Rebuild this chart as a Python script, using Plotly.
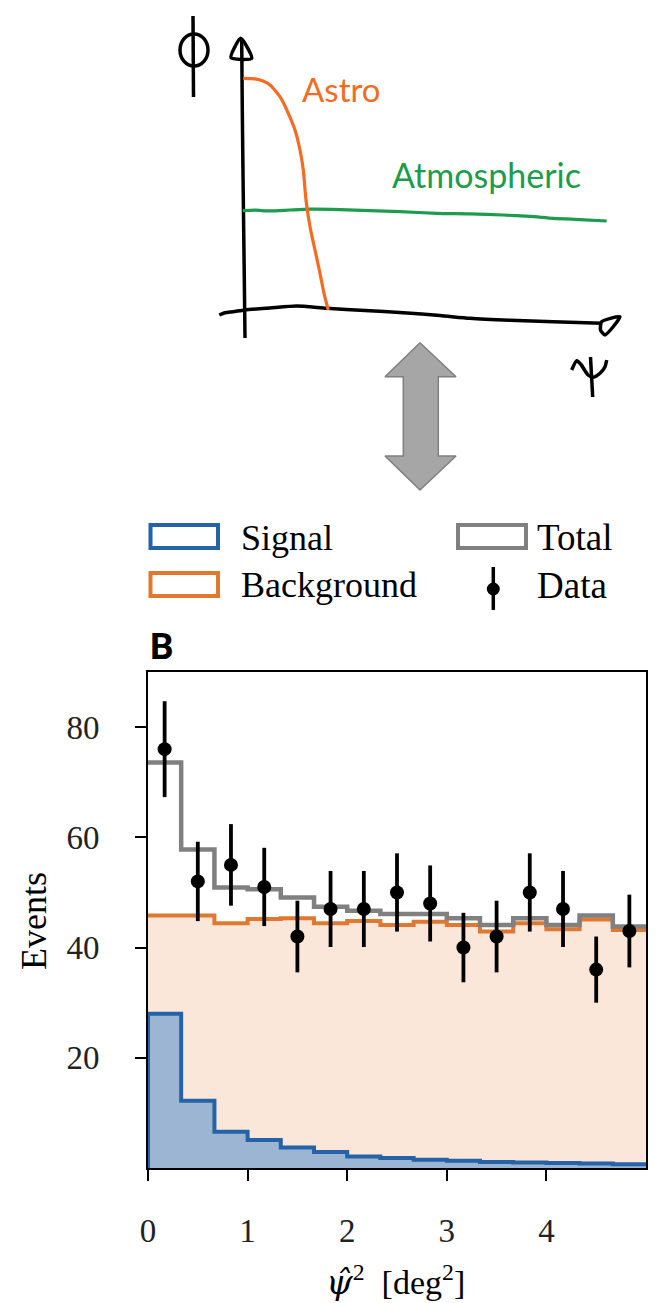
import plotly.graph_objects as go

W, H = 664, 1303

# ---------------- Histogram data (panel B) ----------------
edges = [0.0, 0.333, 0.667, 1.0, 1.333, 1.667, 2.0, 2.333, 2.667, 3.0,
         3.333, 3.667, 4.0, 4.333, 4.667, 5.0]
centers = [0.167, 0.5, 0.833, 1.167, 1.5, 1.833, 2.167, 2.5, 2.833, 3.167,
           3.5, 3.833, 4.167, 4.5, 4.833]
signal = [28.0, 12.2, 6.6, 5.1, 3.7, 2.9, 2.1, 1.8, 1.5, 1.3, 1.1, 1.0, 0.9, 0.8, 0.7]
background = [45.8, 45.8, 44.4, 45.2, 45.3, 44.4, 44.8, 44.1, 44.7, 44.1,
              42.9, 44.4, 43.3, 45.1, 43.2]
total = [73.6, 57.8, 50.9, 50.6, 49.1, 47.4, 46.7, 46.1, 46.1, 45.3,
         44.1, 45.3, 44.1, 45.8, 43.8]
data_counts = [76, 52, 55, 51, 42, 47, 47, 50, 48, 40, 42, 50, 47, 36, 43]
data_err = [8.7, 7.2, 7.4, 7.1, 6.5, 6.9, 6.9, 7.1, 6.9, 6.3, 6.5, 7.1, 6.9, 6.0, 6.6]
x_ticks = [0, 1, 2, 3, 4]
y_ticks = [20, 40, 60, 80]

# ---------------- Sketch data (hand drawing, page pixel units) ----------------
astro_x = [243.3, 255, 263, 270, 280, 288.3, 295, 300, 303.3, 306, 310, 315, 320, 324, 328.3]
astro_y = [78.3, 78.8, 81, 85, 96.7, 113.3, 130, 150, 170, 200, 226.7, 250, 273.3, 293.3, 310]
atmo_x = [242.7, 255, 270, 290, 310, 340, 370, 400, 436.7, 470, 503.3, 530, 553.3, 580, 606.7]
atmo_y = [210.7, 210.2, 210.9, 210.0, 209.2, 209.6, 210.7, 211.6, 213.3, 213.8, 215.0, 216.4, 218.3, 219.6, 221.0]
vaxis_x = [241.7, 242.3, 243.2, 244.2, 245.0]
vaxis_y = [40.0, 110.0, 190.0, 270.0, 338.0]
vhead_x = [231.0, 240.7, 251.7, 231.0]
vhead_y = [57.7, 38.3, 58.3, 57.7]
haxis_x = [219.3, 225.0, 233.3, 245.0, 270.0, 296.7, 326.7, 365.0, 403.3, 440.0, 470.0, 510.0, 553.3, 601.7]
haxis_y = [315.0, 312.7, 311.7, 310.0, 308.0, 306.0, 308.3, 310.5, 312.7, 315.5, 318.3, 320.3, 321.7, 323.3]
hhead_x = [601.7, 620.0, 605.0, 600.5, 601.7]
hhead_y = [321.7, 316.7, 335.0, 330.0, 321.7]
phi_x = [193.0, 193.5]
phi_y = [16.0, 97.0]
psi_cup_x = [571.7, 576.7, 581.0, 584.5, 588.0, 593.3, 600.0, 605.0, 606.7]
psi_cup_y = [370.0, 360.7, 364.5, 370.0, 375.0, 377.3, 373.3, 366.7, 360.0]
psi_stem_x = [590.5, 592.7]
psi_stem_y = [357.0, 397.0]
arrow_x = [420.0, 456.0, 438.3, 438.3, 456.0, 420.0, 385.0, 403.3, 403.3, 385.0, 420.0]
arrow_y = [342.7, 376.7, 376.7, 456.0, 456.0, 490.0, 456.0, 456.0, 376.7, 376.7, 342.7]

C_SIG = "#2463a8"
C_SIG_FILL = "#9cb5d3"
C_BKG = "#e0792f"
C_BKG_FILL = "#fae7da"
C_TOT = "#808080"
SERIF = "Liberation Serif"


def px(x):
    return x / W


def py(y):
    return 1 - y / H


def step(vals, from_zero=True):
    if from_zero:
        return [edges[0]] + edges, [0] + vals + [vals[-1]]
    return edges, vals + [vals[-1]]


fig = go.Figure()

# Background
sx, sy = step(background, False)
fig.add_trace(go.Scatter(x=sx, y=sy, mode="lines", line=dict(shape="hv", color=C_BKG, width=4),
                         fill="tozeroy", fillcolor=C_BKG_FILL, xaxis="x", yaxis="y"))
# Signal
sx, sy = step(signal, True)
fig.add_trace(go.Scatter(x=sx, y=sy, mode="lines", line=dict(shape="hv", color=C_SIG, width=4),
                         fill="tozeroy", fillcolor=C_SIG_FILL, xaxis="x", yaxis="y"))
# Total
sx, sy = step(total, False)
fig.add_trace(go.Scatter(x=sx, y=sy, mode="lines", line=dict(shape="hv", color=C_TOT, width=4.5),
                         xaxis="x", yaxis="y"))
# Data
fig.add_trace(go.Scatter(x=centers, y=data_counts, mode="markers",
                         marker=dict(color="black", size=14),
                         error_y=dict(type="data", array=data_err, color="black", thickness=3.8, width=0),
                         xaxis="x", yaxis="y"))

# ---------------- Sketch ----------------
def sk_line(x, y, color="black", width=3.5):
    fig.add_trace(go.Scatter(x=x, y=y, mode="lines",
                             line=dict(color=color, width=width, shape="spline", smoothing=0.6),
                             xaxis="x2", yaxis="y2"))

sk_line(vaxis_x, vaxis_y)
sk_line(vhead_x, vhead_y)
sk_line(haxis_x, haxis_y)
sk_line(hhead_x, hhead_y)
sk_line(phi_x, phi_y)
sk_line(psi_cup_x, psi_cup_y)
sk_line(psi_stem_x, psi_stem_y)
sk_line(atmo_x, atmo_y, color="#1c9c4c", width=3.2)
sk_line(astro_x, astro_y, color="#f46c22", width=3.2)

fig.add_trace(go.Scatter(x=arrow_x, y=arrow_y, mode="lines", fill="toself", fillcolor="#a6a6a6",
                         line=dict(color="#7f7f7f", width=1.5), xaxis="x2", yaxis="y2"))

shapes = [
    dict(type="circle", xref="x2", yref="y2", x0=180, x1=208, y0=34, y1=66,
         line=dict(color="black", width=3.5)),
    dict(type="rect", xref="x2", yref="y2", x0=150.5, x1=218, y0=525, y1=548,
         line=dict(color=C_SIG, width=4), fillcolor="rgba(0,0,0,0)"),
    dict(type="rect", xref="x2", yref="y2", x0=150.5, x1=218, y0=573, y1=596,
         line=dict(color=C_BKG, width=4), fillcolor="rgba(0,0,0,0)"),
    dict(type="rect", xref="x2", yref="y2", x0=458, x1=526, y0=525, y1=548,
         line=dict(color=C_TOT, width=4), fillcolor="rgba(0,0,0,0)"),
    dict(type="line", xref="x2", yref="y2", x0=493.3, x1=493.3, y0=567, y1=610,
         line=dict(color="black", width=3.5)),
    dict(type="circle", xref="x2", yref="y2", x0=486.8, x1=499.8, y0=582.5, y1=595.5,
         line=dict(color="black", width=0), fillcolor="black"),
]

ann = []


def text(x, y, s, size, color="black", family=SERIF, xanchor="left", yanchor="middle", angle=0):
    ann.append(dict(x=px(x), y=py(y), xref="paper", yref="paper", text=s, showarrow=False,
                    xanchor=xanchor, yanchor=yanchor, textangle=angle, borderpad=0,
                    font=dict(family=family, size=size, color=color)))


text(301, 89, "Astro", 33, color="#f46c22", family="Lato")
text(391, 175, "Atmospheric", 34, color="#1c9c4c", family="Lato")
text(240, 538, "Signal", 36)
text(240, 585, "Background", 36)
text(536, 538, "Total", 37)
text(536, 585, "Data", 37)
text(149, 646, "<b>B</b>", 37, family="Roboto")
text(34, 921, "Events", 36, xanchor="center", angle=-90)
text(395, 1303,
     "<span style=\"font-family:'DejaVu Serif'\"><i>ψ̂</i></span><sup>2</sup>  [deg<sup>2</sup>]",
     34, xanchor="center", yanchor="bottom")

axis_font = dict(family=SERIF, size=33, color="#222222")
fig.update_layout(
    template="none",
    width=W, height=H, margin=dict(l=0, r=0, t=0, b=0, autoexpand=False),
    paper_bgcolor="white", plot_bgcolor="rgba(0,0,0,0)", showlegend=False,
    shapes=shapes, annotations=ann,
    xaxis=dict(domain=[148 / W, 646 / W], range=[0, 5], tickvals=x_ticks, ticks="outside",
               ticklen=11, tickwidth=2, tickcolor="black", showline=True, linecolor="black",
               linewidth=2, mirror=True, showgrid=False, zeroline=False, tickfont=axis_font,
               ticklabelstandoff=21, anchor="y", fixedrange=True, automargin=False,
               layer="above traces"),
    yaxis=dict(domain=[1 - 1168 / H, 1 - 672 / H], range=[0, 90], tickvals=y_ticks, ticks="outside",
               ticklen=11, tickwidth=2, tickcolor="black", showline=True, linecolor="black",
               linewidth=2, mirror=True, showgrid=False, zeroline=False, tickfont=axis_font,
               ticklabelstandoff=29, anchor="x", fixedrange=True, automargin=False,
               layer="above traces"),
    xaxis2=dict(domain=[0, 1], range=[0, W], visible=False, anchor="y2", fixedrange=True),
    yaxis2=dict(domain=[1 - 612 / H, 1], range=[612, 0], visible=False, anchor="x2", fixedrange=True),
)

fig.write_html("out.html")
